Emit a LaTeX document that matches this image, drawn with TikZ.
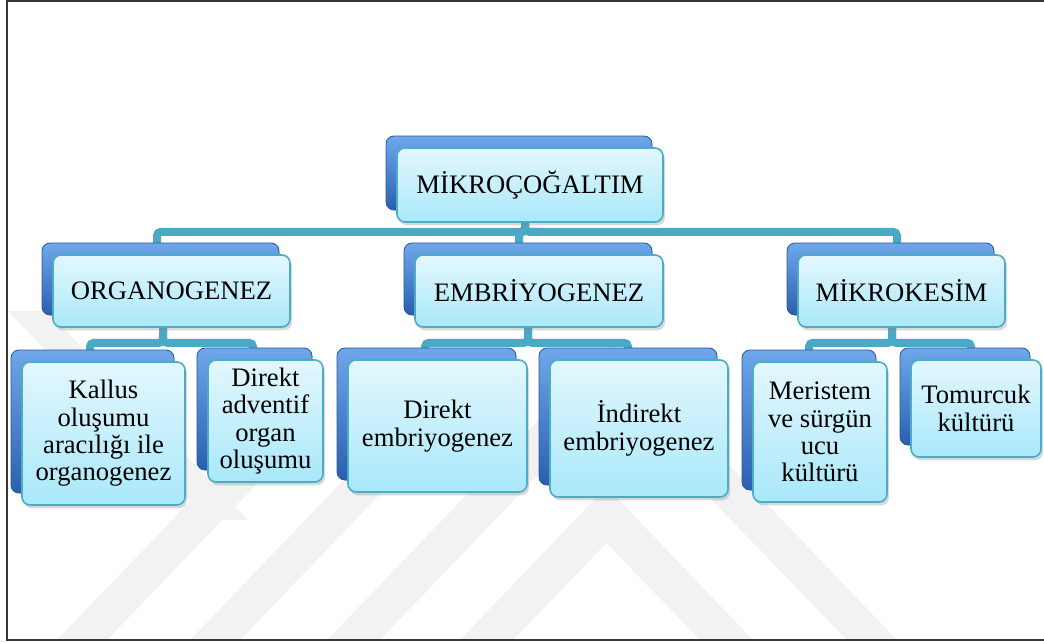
\documentclass[tikz,border=0pt]{standalone}
\usepackage{fontspec}
\setmainfont{Liberation Serif}
\newfontfamily\boxfont{Liberation Serif}
\usepackage{tikz}
\usetikzlibrary{shadows}
\definecolor{boxtop}{HTML}{E3F7FD}
\definecolor{boxbot}{HTML}{A9E8FA}
\definecolor{boxline}{HTML}{4BACC6}
\definecolor{backtop}{HTML}{6FA7EA}
\definecolor{backbot}{HTML}{2A5FB0}
\definecolor{backline}{HTML}{2A5B9A}
\definecolor{connline}{HTML}{4AA9C4}
\pgfdeclarelayer{wmlayer}
\pgfdeclarelayer{wires}
\pgfsetlayers{wmlayer,wires,main}

\begin{document}
\begin{tikzpicture}[x=0.75pt,y=-0.75pt,
  every node/.style={font=\boxfont\fontsize{20}{20.5}\selectfont,align=center},
  item/.style={rectangle,rounded corners=6pt,draw=boxline,line width=1.2pt,
    top color=boxtop,bottom color=boxbot,inner sep=2pt,
    drop shadow={shadow xshift=1.5pt,shadow yshift=-2.5pt,opacity=.3},
    copy shadow={shadow xshift=-8.25pt,shadow yshift=9pt,top color=backtop,
      bottom color=backbot,draw=backline,line width=.6pt}},
  conn/.style={draw=connline,line width=6pt,rounded corners=3pt},
  wmark/.style={fill=black!5,draw=none}
  ]
  \useasboundingbox (0,0) rectangle (1044,642);
  \begin{pgfonlayer}{wmlayer}
    \path[wmark] (327,640) -- (612.5,343) -- (897,640) -- (847,640) -- (612.5,397) -- (380,640) -- cycle;
    \path[wmark] (460,640) -- (606.5,487) -- (753,640) -- (700,640) -- (606.5,543) -- (513,640) -- cycle;
    \path[wmark] (57,640) -- (268,420) -- (318,420) -- (107,640) -- cycle;
    \path[wmark] (190,640) -- (440,380) -- (490,380) -- (240,640) -- cycle;
    \path[wmark] (8,311) -- (47,311) -- (248,520) -- (208,520) -- cycle;
  \end{pgfonlayer}
  \draw[line width=1.6pt,black!78] (1044,1) -- (7,1) -- (7,640) -- (1044,640);

  \node[item,minimum width=199.5pt,minimum height=55.5pt] (root) at (530,185) {MİKROÇOĞALTIM};
  \node[item,minimum width=177.75pt,minimum height=54pt] (organo) at (171.5,291) {ORGANOGENEZ};
  \node[item,minimum width=186pt,minimum height=54pt] (embryo) at (539,291) {EMBRİYOGENEZ};
  \node[item,minimum width=155.25pt,minimum height=54pt] (kesim) at (901.5,291) {MİKROKESİM};
  \node[item,minimum width=122.25pt,minimum height=107.25pt] (kallus) at (103.5,433.5) {Kallus\\oluşumu\\aracılığı ile\\organogenez};
  \node[item,minimum width=86.25pt,minimum height=91.5pt] (advent) at (265.5,421) {Direkt\\adventif\\organ\\oluşumu};
  \node[item,minimum width=134.25pt,minimum height=99pt] (direkt) at (437.5,426) {Direkt\\embriyogenez};
  \node[item,minimum width=133.5pt,minimum height=102.75pt] (indirekt) at (639,428.5) {İndirekt\\embriyogenez};
  \node[item,minimum width=100.5pt,minimum height=105pt] (meri) at (820,432) {Meristem\\ve sürgün\\ucu\\kültürü};
  \node[item,minimum width=97.5pt,minimum height=72.75pt] (tomur) at (976,408.5) {Tomurcuk\\kültürü};

  \begin{pgfonlayer}{wires}
    \draw[conn] ([shift={(-5,0)}]root.south) -- ++(0,9) -| ([shift={(-14.5,0)}]organo.north);
    \draw[conn] ([shift={(-5,0)}]root.south) -- ++(0,9) -| ([shift={(-20,0)}]embryo.north);
    \draw[conn] ([shift={(-5,0)}]root.south) -- ++(0,9) -| ([shift={(-4.5,0)}]kesim.north);
    \draw[conn] ([shift={(-8.5,0)}]organo.south) -- ++(0,15) -| ([shift={(-13.5,0)}]kallus.north);
    \draw[conn] ([shift={(-8.5,0)}]organo.south) -- ++(0,15) -| ([shift={(-12.5,0)}]advent.north);
    \draw[conn] ([shift={(-11,0)}]embryo.south) -- ++(0,15) -| ([shift={(-12.5,0)}]direkt.north);
    \draw[conn] ([shift={(-11,0)}]embryo.south) -- ++(0,15) -| ([shift={(-11,0)}]indirekt.north);
    \draw[conn] ([shift={(-9.5,0)}]kesim.south) -- ++(0,15) -| ([shift={(-11,0)}]meri.north);
    \draw[conn] ([shift={(-9.5,0)}]kesim.south) -- ++(0,15) -| ([shift={(-5,0)}]tomur.north);
  \end{pgfonlayer}
\end{tikzpicture}
\end{document}
